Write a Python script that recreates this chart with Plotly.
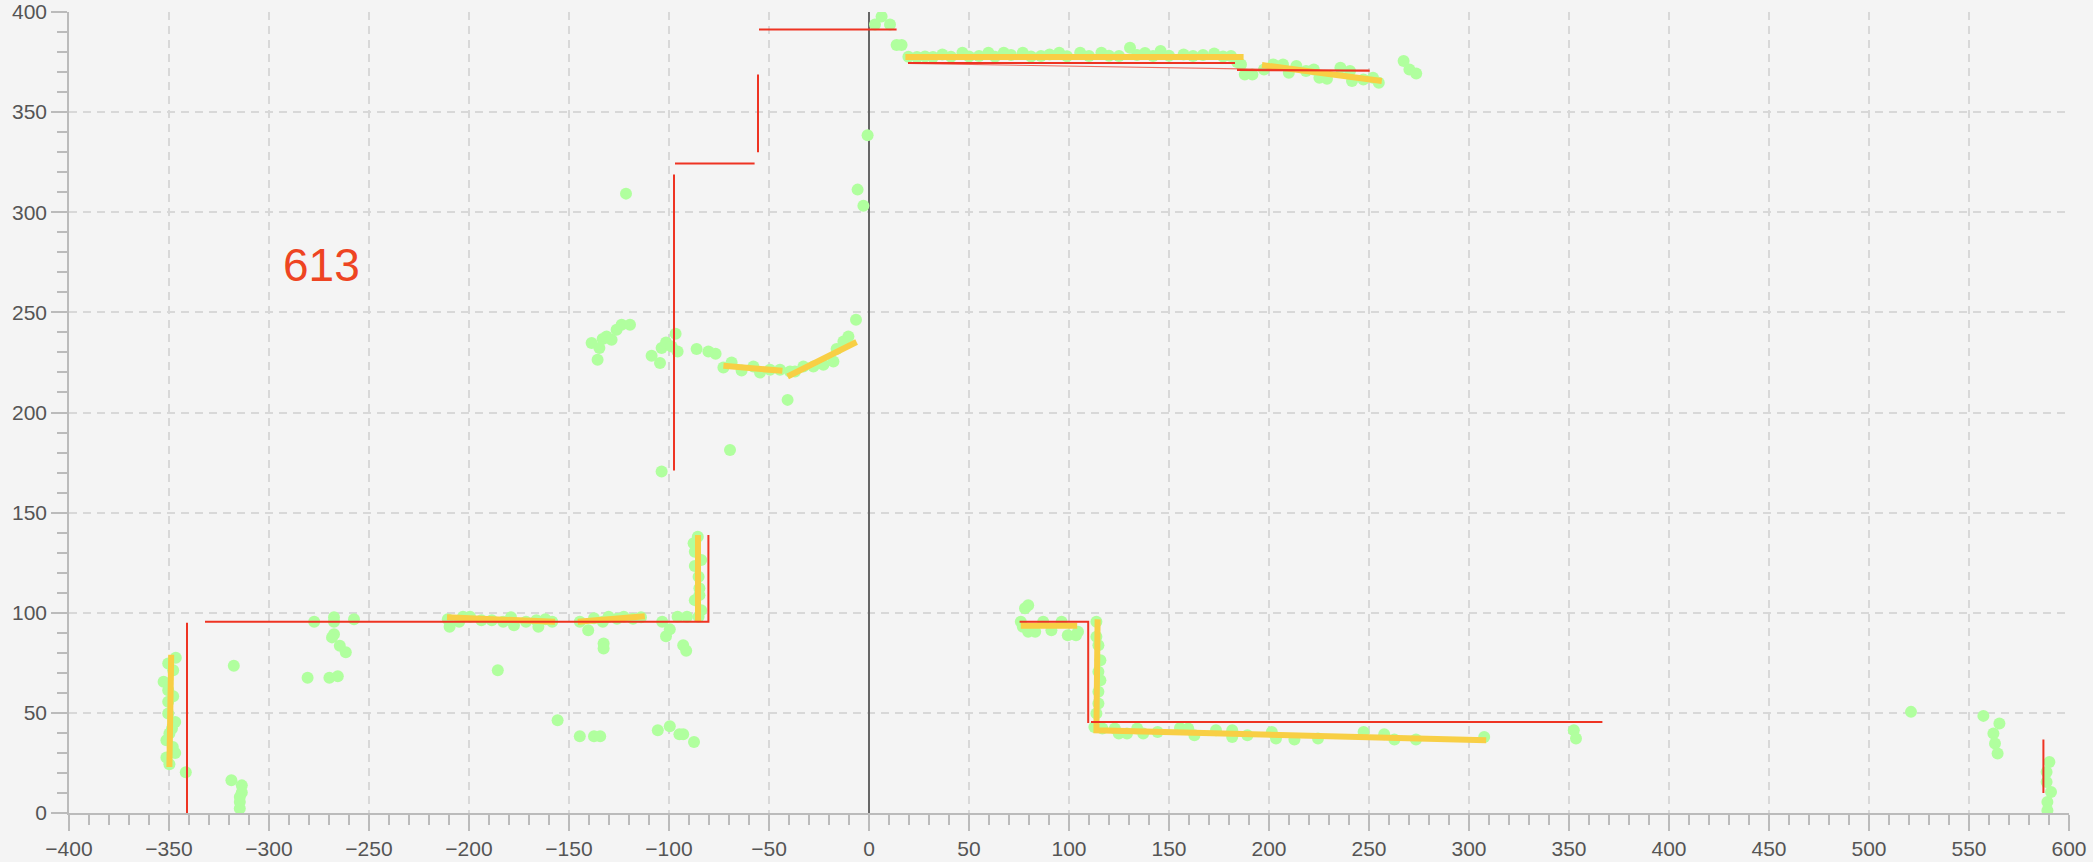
import plotly.graph_objects as go

# ---- green scan points ----
pts_x = [
    # left vertical cluster
    -346.6, -350.4, -347.9, -352.7, -350.4, -347.9, -350.4, -350.4, -346.9, -348.5, -349.8, -351.3,
    -348.1, -346.9, -351.3, -349.8, -341.6,
    # near -315
    -318.8, -313.6, -313.6, -314.6, -314.6, -314.6, -317.6,
    # -280..-255
    -277.4, -267.5, -267.5, -257.5, -267.5, -268.5, -264.6, -261.6, -280.7, -269.8, -265.6,
    # horizontal cluster
    -210.6, -209.7, -204.9, -203.0, -199.5, -193.8, -188.6, -182.9, -179.0, -177.5, -171.5, -166.3,
    -165.3, -161.8, -158.4, -185.6,
    -144.6, -140.4, -137.5, -133.1, -132.7, -132.7, -130.2, -126.0, -122.6, -118.0, -114.0,
    -155.7, -144.6, -137.5, -134.4,
    -103.4, -101.5, -99.6, -95.7, -91.0, -85.2, -92.9, -91.4, -105.6, -99.6, -94.8, -92.9, -87.5,
    # vertical near -86
    -85.6, -87.7, -87.1, -83.9, -87.1, -85.2, -84.8, -84.8, -87.1, -83.9,
    # arc
    -138.7, -135.7, -134.8, -133.2, -131.2, -128.7, -126.2, -123.7, -119.5, -108.7, -104.5, -103.7,
    -101.5, -98.7, -96.7, -95.7, -103.7, -86.2, -80.3, -76.7, -72.8, -68.7, -63.7, -57.8, -54.5,
    -49.5, -44.5, -39.5, -37.0, -32.8, -27.8, -22.8, -17.8, -16.2, -12.8, -10.3, -6.5, -40.7, -69.5,
    -121.5, -0.7, -5.7, -2.8,
    # top
    6.3, 3.0, 10.5, 13.8, 16.3, 19.7,
    24.0, 28.0, 32.0, 36.7, 41.0, 46.7, 50.0, 55.0, 59.7, 63.0, 67.4, 71.0, 76.9, 81.0, 86.0, 90.3,
    95.1, 99.0, 105.6, 110.0, 116.2, 120.0, 125.0, 130.5, 134.0, 138.0, 142.0, 145.8, 150.0, 157.3,
    162.0, 167.0, 172.6, 177.0, 181.0, 184.0, 186.0, 187.9, 191.7,
    197.5, 202.2, 207.0, 209.9, 213.7, 218.5, 222.4, 225.2, 229.0, 235.7, 240.5, 241.5, 247.2,
    252.0, 254.9, 267.3, 270.2, 273.6,
    # right cluster
    78.0, 79.6, 75.9, 76.9, 79.6, 83.1, 87.1, 91.2, 96.3, 99.4, 103.5, 104.5,
    113.7, 113.7, 114.7, 115.7, 114.7, 115.7, 114.7, 114.7, 113.7, 112.7,
    116.7, 122.9, 124.9, 129.0, 134.1, 137.1, 144.3, 155.5, 159.6, 162.7, 173.5, 181.6, 181.6,
    189.2, 201.4, 203.5, 212.7, 224.5, 247.3, 257.6, 262.7, 273.5, 307.6, 352.4, 353.5,
    # far right
    521.0, 557.2, 565.2, 562.2, 563.0, 564.3, 590.2, 588.8, 588.8, 591.0, 589.2, 589.2,
]
pts_y = [
    77.5, 74.7, 71.3, 65.5, 61.3, 58.3, 55.5, 49.7, 45.5, 42.2, 39.7, 36.3,
    33.0, 30.0, 27.7, 24.3, 20.3,
    16.3, 13.8, 10.2, 8.0, 5.5, 2.2, 73.5,
    95.5, 97.7, 95.5, 96.7, 89.3, 87.7, 83.5, 80.3, 67.5, 67.5, 68.3,
    96.7, 93.0, 95.5, 98.0, 98.0, 96.3, 96.3, 95.5, 97.7, 93.8, 95.5, 96.3,
    93.0, 96.7, 95.5, 71.3,
    95.5, 91.3, 97.2, 95.5, 84.7, 82.2, 98.0, 97.0, 98.0, 97.0, 97.7,
    46.3, 38.3, 38.3, 38.3,
    95.5, 88.3, 91.7, 98.0, 98.0, 98.0, 83.8, 81.0, 41.3, 43.3, 39.3, 39.3, 35.5,
    138.0, 134.7, 130.5, 126.3, 123.3, 118.0, 112.2, 108.8, 106.3, 101.3,
    234.7, 226.3, 232.2, 236.7, 238.0, 236.3, 241.3, 243.8, 243.8, 228.3, 224.7, 232.2,
    235.0, 233.0, 239.3, 230.5, 170.5, 231.7, 230.5, 229.3, 222.5, 225.0, 221.0, 223.0, 220.0,
    221.3, 221.3, 220.5, 220.5, 223.0, 223.0, 223.8, 225.5, 231.7, 235.5, 238.0, 246.3, 206.3, 181.3,
    309.3, 338.5, 311.3, 303.3,
    397.7, 393.8, 393.8, 383.5, 383.5, 377.7,
    377.5, 377.8, 377.5, 378.8, 377.6, 379.7, 377.8, 378.0, 379.7, 377.7, 379.7, 378.5, 379.7, 377.8, 378.0, 378.8,
    379.7, 377.9, 379.7, 378.0, 379.7, 378.2, 378.0, 382.2, 378.5, 379.5, 378.0, 380.5, 378.2, 378.8,
    378.0, 378.5, 379.3, 377.8, 378.0, 375.0, 373.8, 368.8, 368.8,
    371.3, 373.8, 373.8, 369.7, 373.0, 370.5, 371.3, 367.2, 366.7, 372.2, 370.5, 365.5, 366.3,
    367.2, 364.7, 375.5, 371.3, 369.3,
    102.2, 103.8, 95.5, 93.0, 90.5, 90.5, 95.5, 91.3, 95.5, 88.8, 88.8, 90.5,
    95.5, 88.0, 83.8, 76.3, 70.5, 66.3, 60.5, 54.7, 49.7, 43.0,
    42.2, 42.2, 39.7, 39.7, 42.2, 39.7, 40.5, 42.5, 42.2, 38.8, 41.3, 41.3, 38.0,
    38.8, 40.5, 37.2, 36.7, 37.2, 40.5, 39.3, 36.7, 36.7, 38.0, 41.3, 37.2,
    50.5, 48.5, 44.7, 39.7, 34.7, 29.7, 25.5, 20.5, 15.5, 10.5, 5.5, 1.3,
]

# ---- fitted (yellow) segments, None separates segments ----
fit_x = [-348.9, -349.8, None, -211.0, -157.0, None, -145.6, -112.1, None, -85.5, -85.5, None,
         -72.8, -43.3, None, -40.7, -6.2, None, 18.2, 187.3, None, 196.5, 256.4, None,
         75.9, 104.1, None, 114.3, 113.7, 308.6]
fit_y = [79.0, 23.0, None, 97.7, 95.5, None, 95.5, 98.3, None, 138.8, 95.5, None,
         223.3, 220.8, None, 218.0, 235.2, None, 377.5, 377.5, None, 373.5, 365.5, None,
         93.5, 93.5, None, 96.7, 41.3, 36.3]

# ---- boundary (red) segments ----
wall_x = [-341.0, -341.0, None, -332.0, -80.3, -80.3, None, -97.5, -97.5, None, -97.0, -57.2, None,
          -55.5, -55.5, None, -55.0, 13.8, None, 19.5, 183.0, None, 184.0, 250.3, None,
          75.3, 109.6, 109.6, None, 111.0, 366.7, None, 587.2, 587.2]
wall_y = [0.0, 95.0, None, 95.5, 95.5, 138.8, None, 171.0, 318.8, None, 324.3, 324.3, None,
          330.0, 368.8, None, 391.3, 391.3, None, 374.5, 374.5, None, 371.0, 370.8, None,
          95.5, 95.5, 45.0, None, 45.5, 45.5, None, 10.0, 36.7]
thin_x = [19.5, 250.3]
thin_y = [374.3, 370.5]

label_text = "613"
label_x, label_y = -274, 273.5

fig = go.Figure()
fig.add_trace(go.Scatter(x=pts_x, y=pts_y, mode="markers",
                         marker=dict(size=12, color="rgb(176,255,158)", line=dict(width=0)),
                         hoverinfo="skip"))
fig.add_trace(go.Scatter(x=fit_x, y=fit_y, mode="lines",
                         line=dict(color="#f8cf45", width=6), hoverinfo="skip"))
fig.add_trace(go.Scatter(x=thin_x, y=thin_y, mode="lines",
                         line=dict(color="rgba(238,51,34,0.7)", width=1.2), hoverinfo="skip"))
fig.add_trace(go.Scatter(x=wall_x, y=wall_y, mode="lines",
                         line=dict(color="#ee3322", width=2), hoverinfo="skip"))

fig.add_annotation(x=label_x, y=label_y, text=label_text, showarrow=False,
                   font=dict(size=46, color="#ee4422", family="Liberation Sans"))

axis_common = dict(
    ticks="outside", ticklen=16, tickwidth=1.5, tickcolor="#bbbbbb",
    showline=True, linecolor="#bbbbbb", linewidth=1.5,
    showgrid=True, gridcolor="#d8d8d8", gridwidth=1.5, griddash="8px,6px",
    tickfont=dict(size=21, color="#555555", family="Liberation Sans"),
    minor=dict(dtick=10, ticks="outside", ticklen=10, tickwidth=1.5,
               tickcolor="#bbbbbb", showgrid=False),
    tick0=0, dtick=50, automargin=False,
)
fig.update_xaxes(range=[-400, 600], zeroline=True, zerolinecolor="#666666",
                 zerolinewidth=1.5, **axis_common)
fig.update_yaxes(range=[0, 400], zeroline=False, **axis_common)

fig.update_layout(
    width=2093, height=862,
    margin=dict(l=69, r=24, t=12, b=49, autoexpand=False),
    paper_bgcolor="#f4f4f4", plot_bgcolor="#f4f4f4",
    showlegend=False,
)

fig.write_html("out.html", config={"displayModeBar": False},
               post_script="document.body.style.margin='0';document.body.style.overflow='hidden';"
                           "document.body.style.background='#f4f4f4';")
